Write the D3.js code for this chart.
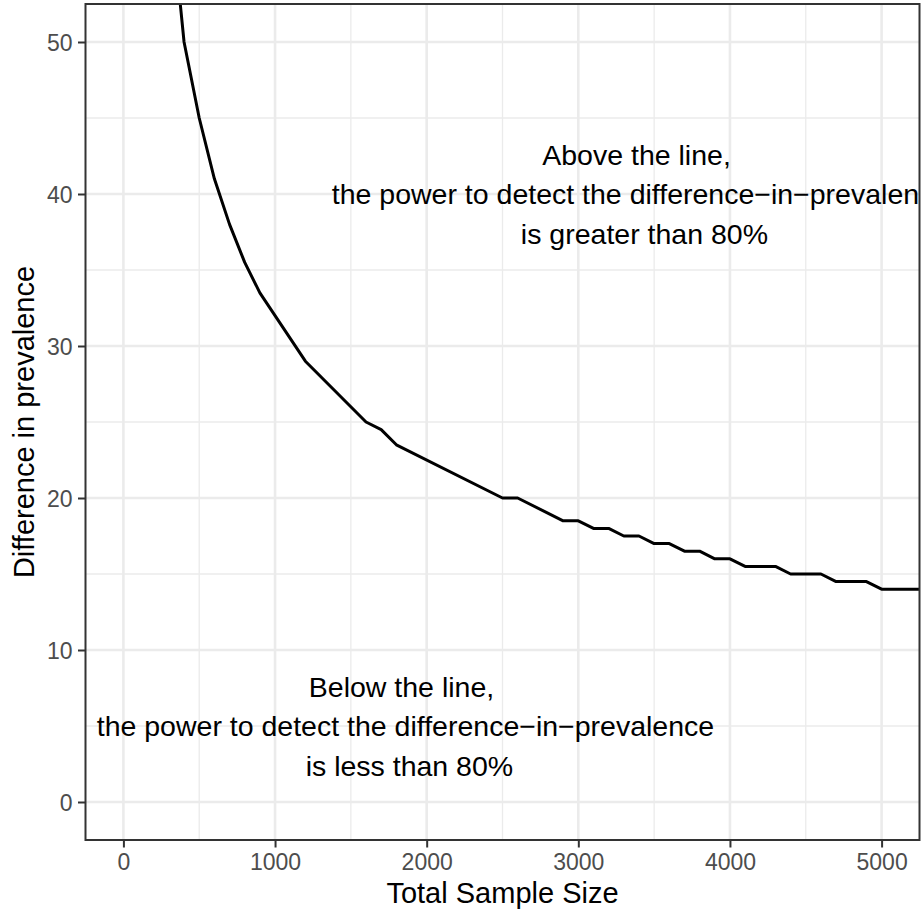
<!DOCTYPE html>
<html>
<head>
<meta charset="utf-8">
<script src="https://cdn.jsdelivr.net/npm/d3@7"></script>
<style>
  html, body { margin: 0; padding: 0; background: #ffffff; }
  svg { display: block; }
  text { font-family: "Liberation Sans", Arial, Helvetica, sans-serif; }
</style>
</head>
<body>
<script>
// ---- data ----
const sampleSize = [300, 400, 500, 600, 700, 800, 900, 1200, 1600, 1700, 1800, 2500, 2600, 2900, 3000,
                    3100, 3200, 3300, 3400, 3500, 3600, 3700, 3800, 3900, 4000, 4100, 4200, 4300,
                    4400, 4500, 4600, 4700, 4800, 4900, 5000, 5100, 5200, 5300];
const difference = [60, 50, 45, 41, 38, 35.5, 33.5, 29, 25, 24.5, 23.5, 20, 20, 18.5, 18.5,
                    18, 18, 17.5, 17.5, 17, 17, 16.5, 16.5, 16, 16, 15.5, 15.5, 15.5,
                    15, 15, 15, 14.5, 14.5, 14.5, 14, 14, 14, 14];
const xTicks = [0, 1000, 2000, 3000, 4000, 5000];
const xMinor = [500, 1500, 2500, 3500, 4500];
const yTicks = [0, 10, 20, 30, 40, 50];
const yMinor = [5, 15, 25, 35, 45];
const xLimits = [0, 5000];
const yLimits = [0, 50];
const xTitle = "Total Sample Size";
const yTitle = "Difference in prevalence";
const aboveLabel = ["Above the line, ", "the power to detect the difference\u2212in\u2212prevalence", " is greater than 80%"];
const belowLabel = ["Below the line, ", "the power to detect the difference\u2212in\u2212prevalence", " is less than 80%"];
const aboveAt = [3410, 40];
const belowAt = [1860, 5];

// ---- layout ----
const W = 922, H = 911;
const panel = { left: 85.5, right: 919.5, top: 4, bottom: 840 };

const xPad = (xLimits[1] - xLimits[0]) * 0.05;
const yPad = (yLimits[1] - yLimits[0]) * 0.05;
const x = d3.scaleLinear().domain([xLimits[0] - xPad, xLimits[1] + xPad]).range([panel.left, panel.right]);
const y = d3.scaleLinear().domain([yLimits[0] - yPad, yLimits[1] + yPad]).range([panel.bottom, panel.top]);

const svg = d3.select("body").append("svg").attr("width", W).attr("height", H);

svg.append("defs").append("clipPath").attr("id", "panelClip")
  .append("rect")
  .attr("x", panel.left).attr("y", panel.top)
  .attr("width", panel.right - panel.left).attr("height", panel.bottom - panel.top);

// panel background
svg.append("rect")
  .attr("x", panel.left).attr("y", panel.top)
  .attr("width", panel.right - panel.left).attr("height", panel.bottom - panel.top)
  .attr("fill", "#ffffff");

const grid = svg.append("g").attr("clip-path", "url(#panelClip)");
// minor grid
grid.selectAll(".xminor").data(xMinor).enter().append("line")
  .attr("x1", d => x(d)).attr("x2", d => x(d))
  .attr("y1", panel.top).attr("y2", panel.bottom)
  .attr("stroke", "#EBEBEB").attr("stroke-width", 1.3);
grid.selectAll(".yminor").data(yMinor).enter().append("line")
  .attr("y1", d => y(d)).attr("y2", d => y(d))
  .attr("x1", panel.left).attr("x2", panel.right)
  .attr("stroke", "#EBEBEB").attr("stroke-width", 1.3);
// major grid
grid.selectAll(".xmajor").data(xTicks).enter().append("line")
  .attr("x1", d => x(d)).attr("x2", d => x(d))
  .attr("y1", panel.top).attr("y2", panel.bottom)
  .attr("stroke", "#EBEBEB").attr("stroke-width", 2.6);
grid.selectAll(".ymajor").data(yTicks).enter().append("line")
  .attr("y1", d => y(d)).attr("y2", d => y(d))
  .attr("x1", panel.left).attr("x2", panel.right)
  .attr("stroke", "#EBEBEB").attr("stroke-width", 2.6);

// curve
const pts = sampleSize.map((s, i) => [s, difference[i]]);
const line = d3.line().x(d => x(d[0])).y(d => y(d[1]));
svg.append("g").attr("clip-path", "url(#panelClip)")
  .append("path")
  .datum(pts)
  .attr("d", line)
  .attr("fill", "none")
  .attr("stroke", "#000000")
  .attr("stroke-width", 3)
  .attr("stroke-linejoin", "round");

// annotations
const fs = 28.5, lh = 39.5;
function annotate(lines, at) {
  const g = svg.append("g").attr("clip-path", "url(#panelClip)");
  const cx = x(at[0]);
  const midBase = y(at[1]) + fs * 0.36;
  lines.forEach((t, i) => {
    g.append("text")
      .attr("x", cx)
      .attr("y", midBase + (i - 1) * lh)
      .attr("text-anchor", "middle")
      .attr("font-size", fs)
      .attr("fill", "#000000")
      .style("white-space", "pre")
      .attr("xml:space", "preserve")
      .text(t);
  });
}
annotate(aboveLabel, aboveAt);
annotate(belowLabel, belowAt);

// panel border
svg.append("rect")
  .attr("x", panel.left).attr("y", panel.top)
  .attr("width", panel.right - panel.left).attr("height", panel.bottom - panel.top)
  .attr("fill", "none").attr("stroke", "#333333").attr("stroke-width", 2);

// axes
const xAxis = d3.axisBottom(x).tickValues(xTicks).tickSize(7.5).tickPadding(6).tickFormat(d3.format("d"));
const yAxis = d3.axisLeft(y).tickValues(yTicks).tickSize(7.5).tickPadding(6).tickFormat(d3.format("d"));

const gx = svg.append("g").attr("transform", `translate(0,${panel.bottom})`).call(xAxis);
const gy = svg.append("g").attr("transform", `translate(${panel.left},0)`).call(yAxis);
[gx, gy].forEach(g => {
  g.select(".domain").remove();
  g.selectAll(".tick line").attr("stroke", "#333333").attr("stroke-width", 2);
  g.selectAll(".tick text")
    .attr("font-family", "Liberation Sans, Arial, sans-serif")
    .attr("font-size", 23)
    .attr("fill", "#4D4D4D");
});
gx.selectAll(".tick text").attr("dy", null).attr("y", 30);
gy.selectAll(".tick text").attr("dy", "0.35em").attr("x", -13);

// axis titles
svg.append("text")
  .attr("x", (panel.left + panel.right) / 2)
  .attr("y", 903)
  .attr("text-anchor", "middle")
  .attr("font-size", 29)
  .attr("fill", "#000000")
  .text(xTitle);

svg.append("text")
  .attr("transform", `translate(33.5,${(panel.top + panel.bottom) / 2}) rotate(-90)`)
  .attr("text-anchor", "middle")
  .attr("font-size", 29)
  .attr("fill", "#000000")
  .text(yTitle);
</script>
</body>
</html>
